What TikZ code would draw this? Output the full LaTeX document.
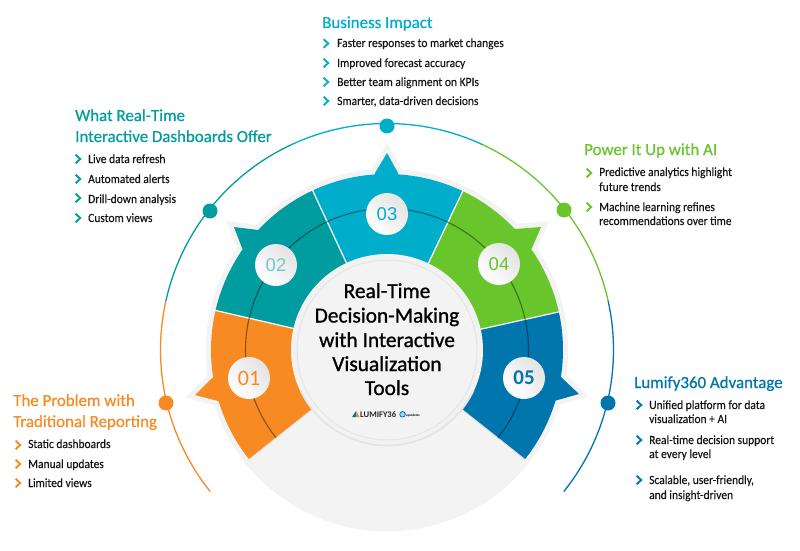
\documentclass[tikz,border=0pt]{standalone}
\usepackage{fontspec}
\setmainfont{Carlito}
\newfontfamily\headfont{Carlito}[FakeBold=0.7]
\newfontfamily\listfont{Carlito}[FakeStretch=0.92,FakeBold=0.25]
\newfontfamily\centerfont{Carlito}[FakeBold=1.0]
\newfontfamily\numfont{Liberation Sans}
\usetikzlibrary{calc}
\definecolor{cOrange}{HTML}{F78A22}
\definecolor{cTeal}{HTML}{009CA0}
\definecolor{cCyan}{HTML}{00AECC}
\definecolor{cGreen}{HTML}{68C52B}
\definecolor{cBlue}{HTML}{0075AE}
\definecolor{cHalo}{HTML}{F3F3F3}
\definecolor{cInk}{HTML}{151515}
\tikzset{
  px/.style={x=1pt,y=-1pt,yshift=550pt},
  polar/.style={x=1pt,y=1pt,shift={(387pt,200pt)}},
  heading/.style={anchor=base west,inner sep=0pt,font=\headfont\fontsize{16.9}{20}\selectfont},
  itemtext/.style={anchor=base west,inner sep=0pt,text=cInk,font=\listfont\fontsize{12.5}{15}\selectfont},
  centerline/.style={anchor=base,inner sep=0pt,text=black,font=\centerfont\fontsize{21.4}{26}\selectfont},
  chevron/.style={line width=1.9pt,miter limit=10},
  halotri/.style={fill=cHalo,draw=cHalo,line width=10pt,line join=miter,miter limit=20},
  sep/.style={draw=white,line width=1.2pt},
  dotnode/.style={circle,inner sep=0pt,minimum size=15pt},
  numdisc/.style={circle,inner sep=0pt,minimum size=42pt,left color=white,right color=black!11,shading angle=135},
  ring/.style={line width=1.3pt},
}
\newcommand{\chev}[3]{\draw[chevron,#3] (#1-2.4,#2-4.3) -- (#1+2.2,#2) -- (#1-2.4,#2+4.3);}
\newcommand{\listline}[4]{\node[itemtext] (#1) at (#2,#3) {#4};}
\begin{document}
\begin{tikzpicture}
\useasboundingbox (0,0) rectangle (800pt,550pt);
\begin{scope}[polar]
  % outer ring arcs
  \draw[ring,cOrange] (218.7:226.5) arc[start angle=218.7,end angle=167.5,radius=226.5];
  \draw[ring,cTeal] (167.5:226.5) arc[start angle=167.5,end angle=115,radius=226.5];
  \draw[ring,cCyan] (115:226.5) arc[start angle=115,end angle=65,radius=226.5];
  \draw[ring,cGreen] (65:226.5) arc[start angle=65,end angle=12.5,radius=226.5];
  \draw[ring,cBlue] (12.5:226.5) arc[start angle=12.5,end angle=-38.7,radius=226.5];
  % base disc
  \fill[cHalo] (0,0) circle[radius=181];
  \draw[black!9,line width=1.2pt] (218:180.4) arc[start angle=218,end angle=322,radius=180.4];
\end{scope}
\begin{scope}[px]
  \path[halotri] (195,395) -- (212,378) -- (218,401) -- cycle;
  \path[halotri] (234,227) -- (258,230) -- (242,248) -- cycle;
  \path[halotri] (387,153) -- (375,173) -- (398,173) -- cycle;
  \path[halotri] (541,227) -- (515,229) -- (532,248) -- cycle;
  \path[halotri] (579,394) -- (561,377) -- (554,401) -- cycle;
\end{scope}
\begin{scope}[polar]
  \fill[cHalo] (0,0) circle[radius=181];
  \fill[cOrange] (218.4:96) -- (218.4:176) arc[start angle=218.4,end angle=167,radius=176] -- (167:96) -- cycle;
  \fill[cTeal] (167:96) -- (167:176) arc[start angle=167,end angle=115,radius=176] -- (115:96) -- cycle;
  \fill[cCyan] (115:96) -- (115:176) arc[start angle=115,end angle=64.5,radius=176] -- (64.5:96) -- cycle;
  \fill[cGreen] (64.5:96) -- (64.5:176) arc[start angle=64.5,end angle=12.5,radius=176] -- (12.5:96) -- cycle;
  \fill[cBlue] (12.5:96) -- (12.5:176) arc[start angle=12.5,end angle=-38.4,radius=176] -- (-38.4:96) -- cycle;
\end{scope}
\begin{scope}[px]
  \fill[cOrange] (195,395) -- (212,378) -- (225,378) -- (225,402) -- (218,401) -- cycle;
  \fill[cTeal] (234,227) -- (258,230) -- (262,240) -- (245,252) -- (242,248) -- cycle;
  \fill[cCyan] (387,153) -- (375,173) -- (375,180) -- (398,180) -- (398,173) -- cycle;
  \fill[cGreen] (541,227) -- (515,229) -- (512,240) -- (528,252) -- (532,248) -- cycle;
  \fill[cBlue] (579,394) -- (561,377) -- (549,377) -- (549,402) -- (554,401) -- cycle;
\end{scope}
\begin{scope}[polar]
  \draw[sep] (167:96) -- (167:176.3);
  \draw[sep] (115:96) -- (115:176.3);
  \draw[sep] (64.5:96) -- (64.5:176.3);
  \draw[sep] (12.5:96) -- (12.5:176.3);
  \draw[black!12,line width=.8pt] (218.4:96) -- (218.4:176);
  \draw[black!12,line width=.8pt] (-38.4:96) -- (-38.4:176);
  % middle dark arc
  \draw[black,opacity=.42,line width=1.1pt] (218.4:141.5) arc[start angle=218.4,end angle=-38.4,radius=141.5];
  % centre disc
  \fill[black!5] (0,0) circle[radius=96];
  \draw[black!11,line width=1.6pt] (205:95.5) arc[start angle=205,end angle=335,radius=95.5];
  \fill[black!10] (0,0) circle[radius=90.5];
  \fill[cHalo] (0,0) circle[radius=89.3];
\end{scope}
\begin{scope}[px]
  % number discs
  \node[numdisc] (n1) at (249,378) {\fontsize{22}{24}\selectfont\textcolor{cOrange}{01}};
  \node[numdisc] (n2) at (276,265) {\numfont\fontsize{18.5}{20}\selectfont\textcolor{cTeal!55!white}{02}};
  \node[numdisc] (n3) at (387,214) {\numfont\fontsize{18.5}{20}\selectfont\textcolor{cCyan}{03}};
  \node[numdisc] (n4) at (499,264) {\numfont\fontsize{18.5}{20}\selectfont\textcolor{cGreen}{04}};
  \node[numdisc] (n5) at (524,378) {\bfseries\fontsize{21}{24}\selectfont\textcolor{cBlue}{05}};
  % ring dots
  \node[dotnode,fill=cOrange] (d1) at (166,403) {};
  \node[dotnode,fill=cTeal] (d2) at (210,211) {};
  \node[dotnode,fill=cCyan] (d3) at (387,126) {};
  \node[dotnode,fill=cGreen] (d4) at (564,210) {};
  \node[dotnode,fill=cBlue] (d5) at (608,403) {};
  % centre text
  \node[centerline] (c1) at (387,298) {Real-Time};
  \node[centerline] (c2) at (387,322.5) {Decision-Making};
  \node[centerline] (c3) at (387,347) {with Interactive};
  \node[centerline] (c4) at (387,371) {Visualization};
  \node[centerline] (c5) at (387,395) {Tools};
  % logo
  \fill[cCyan!70!black] (352,417) -- (356,411) -- (356,417) -- cycle;
  \fill[cOrange] (356,411) -- (359.5,417) -- (356,417) -- cycle;
  \node[anchor=base west,inner sep=0pt,text=black!85,font=\bfseries\fontsize{8.6}{9}\selectfont] (logo) at (360,417) {LUMIFY36};
  \node[circle,draw=cBlue,line width=.8pt,fill=cCyan!40,inner sep=0pt,minimum size=5.5pt] (logoo) at (402.5,414.3) {};
  \node[anchor=base west,inner sep=0pt,text=black,font=\bfseries\fontsize{3.4}{4}\selectfont] (logosub) at (406,416.5) {apsolutes};
  % Business Impact
  \node[heading,text=cCyan] (h3) at (322,28) {Business Impact};
  \chev{326}{43.5}{cCyan} \chev{326}{63}{cCyan} \chev{326}{82}{cCyan} \chev{326}{101}{cCyan}
  \listline{i31}{337}{47}{Faster responses to market changes}
  \listline{i32}{337}{67}{Improved forecast accuracy}
  \listline{i33}{337}{86}{Better team alignment on KPIs}
  \listline{i34}{337}{105}{Smarter, data-driven decisions}
  % What
  \node[heading,text=cTeal] (h2a) at (75,121) {What Real-Time};
  \node[heading,text=cTeal] (h2b) at (75,142) {Interactive Dashboards Offer};
  \chev{78}{159}{cTeal} \chev{78}{179}{cTeal} \chev{78}{198}{cTeal} \chev{78}{218}{cTeal}
  \listline{i21}{88}{163}{Live data refresh}
  \listline{i22}{88}{183}{Automated alerts}
  \listline{i23}{88}{203}{Drill-down analysis}
  \listline{i24}{88}{222}{Custom views}
  % Power
  \node[heading,text=cGreen] (h4) at (584,155) {Power It Up with AI};
  \chev{589}{173}{cGreen} \chev{589}{207}{cGreen}
  \listline{i41}{599}{176}{Predictive analytics highlight}
  \listline{i42}{599}{191}{future trends}
  \listline{i43}{599}{211}{Machine learning refines}
  \listline{i44}{599}{225}{recommendations over time}
  % Lumify
  \node[heading,text=cBlue] (h5) at (634,388) {Lumify360 Advantage};
  \chev{639}{405}{cBlue} \chev{639}{440}{cBlue} \chev{639}{480}{cBlue}
  \listline{i51}{649}{409}{Unified platform for data}
  \listline{i52}{649}{423}{visualization + AI}
  \listline{i53}{649}{444}{Real-time decision support}
  \listline{i54}{649}{458}{at every level}
  \listline{i55}{649}{484}{Scalable, user-friendly,}
  \listline{i56}{649}{499}{and insight-driven}
  % Problem
  \node[heading,text=cOrange] (h1a) at (13,406) {The Problem with};
  \node[heading,text=cOrange] (h1b) at (13,427) {Traditional Reporting};
  \chev{18}{445}{cOrange} \chev{18}{464}{cOrange} \chev{18}{483}{cOrange}
  \listline{i11}{28}{448}{Static dashboards}
  \listline{i12}{28}{468}{Manual updates}
  \listline{i13}{28}{487}{Limited views}
\end{scope}
\end{tikzpicture}
\end{document}
